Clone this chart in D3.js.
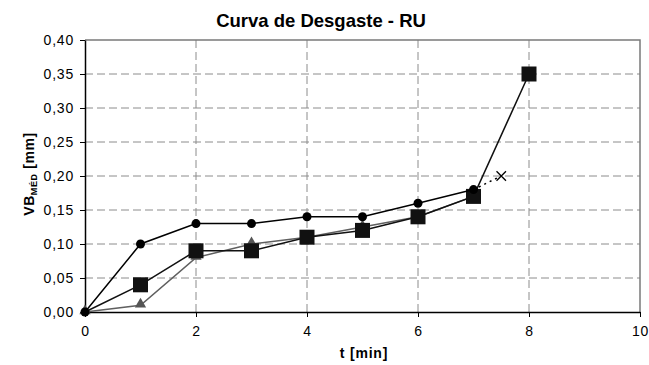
<!DOCTYPE html>
<html>
<head>
<meta charset="utf-8">
<script src="https://cdn.jsdelivr.net/npm/d3@7"></script>
<style>
  body { margin: 0; background: #fff; }
  text { font-family: "Liberation Sans", Arial, sans-serif; }
</style>
</head>
<body>
<svg id="chart" width="649" height="365"></svg>
<script>
// valeurs
let tempo = [0, 1, 2, 3, 4, 5, 6, 7, 8];
let serie_circulo = [0, 0.10, 0.13, 0.13, 0.14, 0.14, 0.16, 0.18];
let serie_quadrado = [0, 0.04, 0.09, 0.09, 0.11, 0.12, 0.14, 0.17, 0.35];
let serie_triangulo = [0, 0.01, 0.08, 0.10, 0.11, 0.125, 0.14, 0.17];
let serie_x = [[7, 0.18], [7.5, 0.20]];
let x_ticks = [0, 2, 4, 6, 8, 10];
let y_ticks = [0, 0.05, 0.10, 0.15, 0.20, 0.25, 0.30, 0.35, 0.40];

let svg = d3.select("#chart");

let x = d3.scaleLinear().domain([0, 10]).range([85, 640]);
let y = d3.scaleLinear().domain([0, 0.40]).range([312, 40]);

let fmt = v => d3.format(".2f")(v).replace(".", ",");

// grille
svg.append("g")
    .selectAll("line")
    .data(y_ticks.slice(1, -1))
    .enter().append("line")
    .attr("x1", x(0)).attr("x2", x(10))
    .attr("y1", d => y(d)).attr("y2", d => y(d))
    .attr("stroke", "#8c8c8c")
    .attr("stroke-dasharray", "8,4");

svg.append("g")
    .selectAll("line")
    .data(x_ticks.slice(1, -1))
    .enter().append("line")
    .attr("x1", d => x(d)).attr("x2", d => x(d))
    .attr("y1", y(0)).attr("y2", y(0.40))
    .attr("stroke", "#8c8c8c")
    .attr("stroke-dasharray", "8,4");

// cadre haut et droit
svg.append("path")
    .attr("d", "M" + x(0) + "," + y(0.40) + "H" + x(10) + "V" + y(0))
    .attr("fill", "none")
    .attr("stroke", "#7a7a7a")
    .attr("stroke-width", 1.5);

// axes
let xAxis = svg.append("g")
    .attr("transform", "translate(0," + y(0) + ")")
    .call(d3.axisBottom(x).tickValues(x_ticks).tickSize(5).tickPadding(9).tickSizeOuter(0));
let yAxis = svg.append("g")
    .attr("transform", "translate(" + x(0) + ",0)")
    .call(d3.axisLeft(y).tickValues(y_ticks).tickFormat(fmt).tickSize(5).tickPadding(6).tickSizeOuter(0));

[xAxis, yAxis].forEach(function(a){
    a.select(".domain").attr("stroke", "#000").attr("stroke-width", 1.5);
    a.selectAll(".tick line").attr("stroke", "#000");
    a.selectAll("text")
        .attr("font-family", "Liberation Sans, Arial, sans-serif")
        .attr("font-size", 14)
        .attr("letter-spacing", 0.8)
        .attr("fill", "#000");
});

// series
let ligne = d3.line().x(d => x(d[0])).y(d => y(d[1]));

function pts(vals){
    return vals.map((v, i) => [tempo[i], v]);
}

// triangulo
let tri = pts(serie_triangulo);
svg.append("path").attr("d", ligne(tri))
    .attr("fill", "none").attr("stroke", "#5f5f5f").attr("stroke-width", 1.5);
svg.append("g").selectAll("path")
    .data(tri).enter().append("path")
    .attr("d", d3.symbol().type(d3.symbolTriangle).size(55))
    .attr("transform", d => "translate(" + x(d[0]) + "," + (y(d[1]) - 1) + ")")
    .attr("fill", "#555");

// quadrado (pas de marqueur a l'origine)
let quad = pts(serie_quadrado);
svg.append("path").attr("d", ligne(quad))
    .attr("fill", "none").attr("stroke", "#111").attr("stroke-width", 1.5);
svg.append("g").selectAll("rect")
    .data(quad.slice(1)).enter().append("rect")
    .attr("x", d => x(d[0]) - 7.5).attr("y", d => y(d[1]) - 7.5)
    .attr("width", 15).attr("height", 15)
    .attr("fill", "#111");

// circulo
let circ = pts(serie_circulo);
svg.append("path").attr("d", ligne(circ))
    .attr("fill", "none").attr("stroke", "#000").attr("stroke-width", 1.5);
svg.append("g").selectAll("circle")
    .data(circ).enter().append("circle")
    .attr("cx", d => x(d[0])).attr("cy", d => y(d[1]))
    .attr("r", 4.5)
    .attr("fill", "#000");

// x pontilhado
svg.append("path").attr("d", ligne(serie_x))
    .attr("fill", "none").attr("stroke", "#000").attr("stroke-width", 1.5)
    .attr("stroke-dasharray", "2,4");
let xm = serie_x[serie_x.length - 1];
svg.append("path")
    .attr("d", d3.symbol().type(d3.symbolX).size(60))
    .attr("transform", "translate(" + x(xm[0]) + "," + y(xm[1]) + ")")
    .attr("fill", "none").attr("stroke", "#000").attr("stroke-width", 1.3);

// titres
svg.append("text")
    .attr("x", 321).attr("y", 27)
    .attr("text-anchor", "middle")
    .attr("font-size", 18.5)
    .attr("font-weight", "bold")
    .text("Curva de Desgaste - RU");

svg.append("text")
    .attr("x", 364).attr("y", 358)
    .attr("text-anchor", "middle")
    .attr("font-size", 14)
    .attr("font-weight", "bold")
    .attr("letter-spacing", 0.8)
    .text("t [min]");

let ylab = svg.append("text")
    .attr("transform", "translate(34,174) rotate(-90)")
    .attr("text-anchor", "middle")
    .attr("font-size", 14)
    .attr("font-weight", "bold")
    .attr("letter-spacing", 0.6);
ylab.append("tspan").text("VB");
ylab.append("tspan").attr("font-size", 9).attr("dy", 3).text("MÉD");
ylab.append("tspan").attr("dy", -3).text(" [mm]");
</script>
</body>
</html>
